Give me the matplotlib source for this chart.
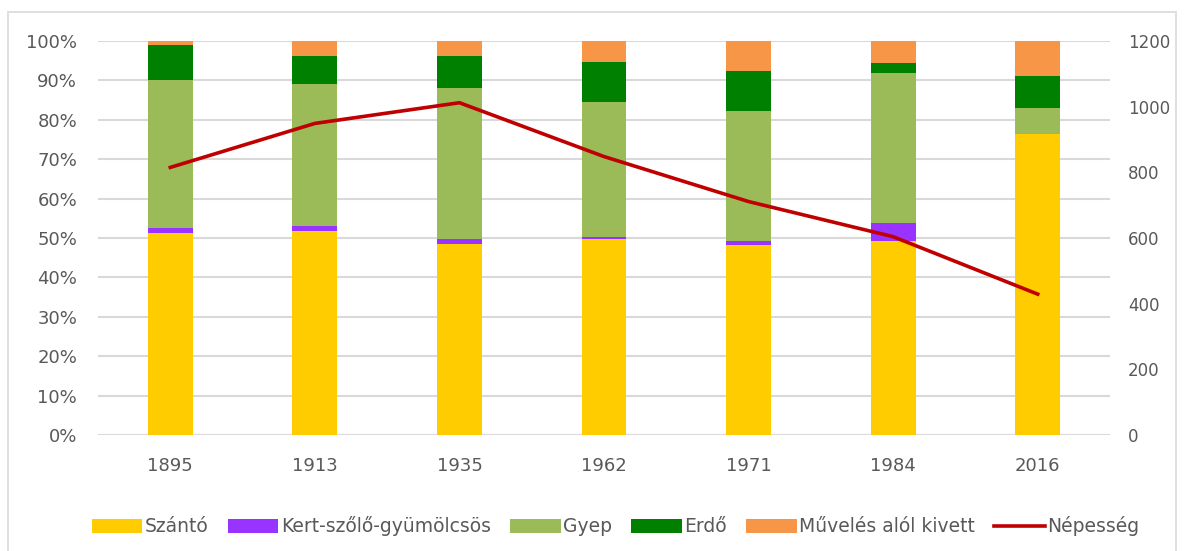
import numpy as np
import matplotlib
matplotlib.use("Agg")
import matplotlib.pyplot as plt
from matplotlib.patches import Rectangle
from matplotlib.lines import Line2D
from matplotlib.ticker import FuncFormatter

# Land use shares (%) and population
years = ["1895", "1913", "1935", "1962", "1971", "1984", "2016"]
szanto = [51.3, 51.9, 48.6, 49.7, 48.1, 49.2, 76.3]
kert = [1.2, 1.1, 1.1, 0.6, 1.1, 4.5, 0.0]
gyep = [37.6, 36.1, 38.3, 34.3, 33.1, 38.1, 6.6]
erdo = [8.9, 7.0, 8.1, 10.0, 10.1, 2.7, 8.3]
muveles = [1.0, 3.9, 3.9, 5.4, 7.6, 5.5, 8.8]
nepesseg = [815, 949, 1012, 848, 711, 604, 429]

series = [
    ("Szántó", szanto, "#FFCC00"),
    ("Kert-szőlő-gyümölcsös", kert, "#9933FF"),
    ("Gyep", gyep, "#9BBB59"),
    ("Erdő", erdo, "#008000"),
    ("Művelés alól kivett", muveles, "#F79646"),
]
line_color = "#C00000"
text_color = "#595959"
grid_color = "#D9D9D9"

plt.rcParams["font.family"] = ["DejaVu Sans"]

fig = plt.figure(figsize=(11.84, 5.51), dpi=100)
ax = fig.add_axes([0.0828, 0.2105, 0.8547, 0.7151])

x = np.arange(len(years))
bottom = np.zeros(len(years))
handles = []
for name, vals, col in series:
    ax.bar(x, vals, bottom=bottom, width=0.31, color=col, edgecolor="none", zorder=2)
    bottom += np.array(vals)
    handles.append(Rectangle((0, 0), 1, 1, facecolor=col, edgecolor="none"))

ax.set_ylim(0, 100)
ax.set_xlim(-0.5, len(years) - 0.5)
ax.set_yticks(np.arange(0, 101, 10))
ax.yaxis.set_major_formatter(FuncFormatter(lambda v, p: f"{int(v)}%"))
ax.set_xticks(x)
ax.set_xticklabels(years)
ax.grid(axis="y", color=grid_color, linewidth=1.5, zorder=0)
ax.set_axisbelow(True)
for s in ax.spines.values():
    s.set_visible(False)
ax.tick_params(axis="both", length=0, colors=text_color, labelsize=13)
ax.tick_params(axis="y", pad=15)
ax.tick_params(axis="x", pad=16)

ax2 = ax.twinx()
ax2.plot(x, nepesseg, color=line_color, linewidth=2.6, zorder=3)
ax2.set_ylim(0, 1200)
ax2.set_yticks(np.arange(0, 1201, 200))
for s in ax2.spines.values():
    s.set_visible(False)
ax2.tick_params(axis="y", length=0, colors=text_color, labelsize=12, pad=13)

handles.append(Line2D([0], [0], color=line_color, linewidth=2.6))
labels = [s[0] for s in series] + ["Népesség"]
fig.legend(handles, labels, loc="center", bbox_to_anchor=(0.52, 0.045), ncol=6,
           frameon=False, fontsize=13.5, labelcolor=text_color,
           handlelength=2.7, handleheight=0.75, handletextpad=0.15, columnspacing=1.0)

# chart frame
fig.patches.append(Rectangle((0.007, -0.01), 0.986, 0.988, transform=fig.transFigure,
                             fill=False, edgecolor=grid_color, linewidth=1.2))

fig.savefig("out.png", dpi=100)
